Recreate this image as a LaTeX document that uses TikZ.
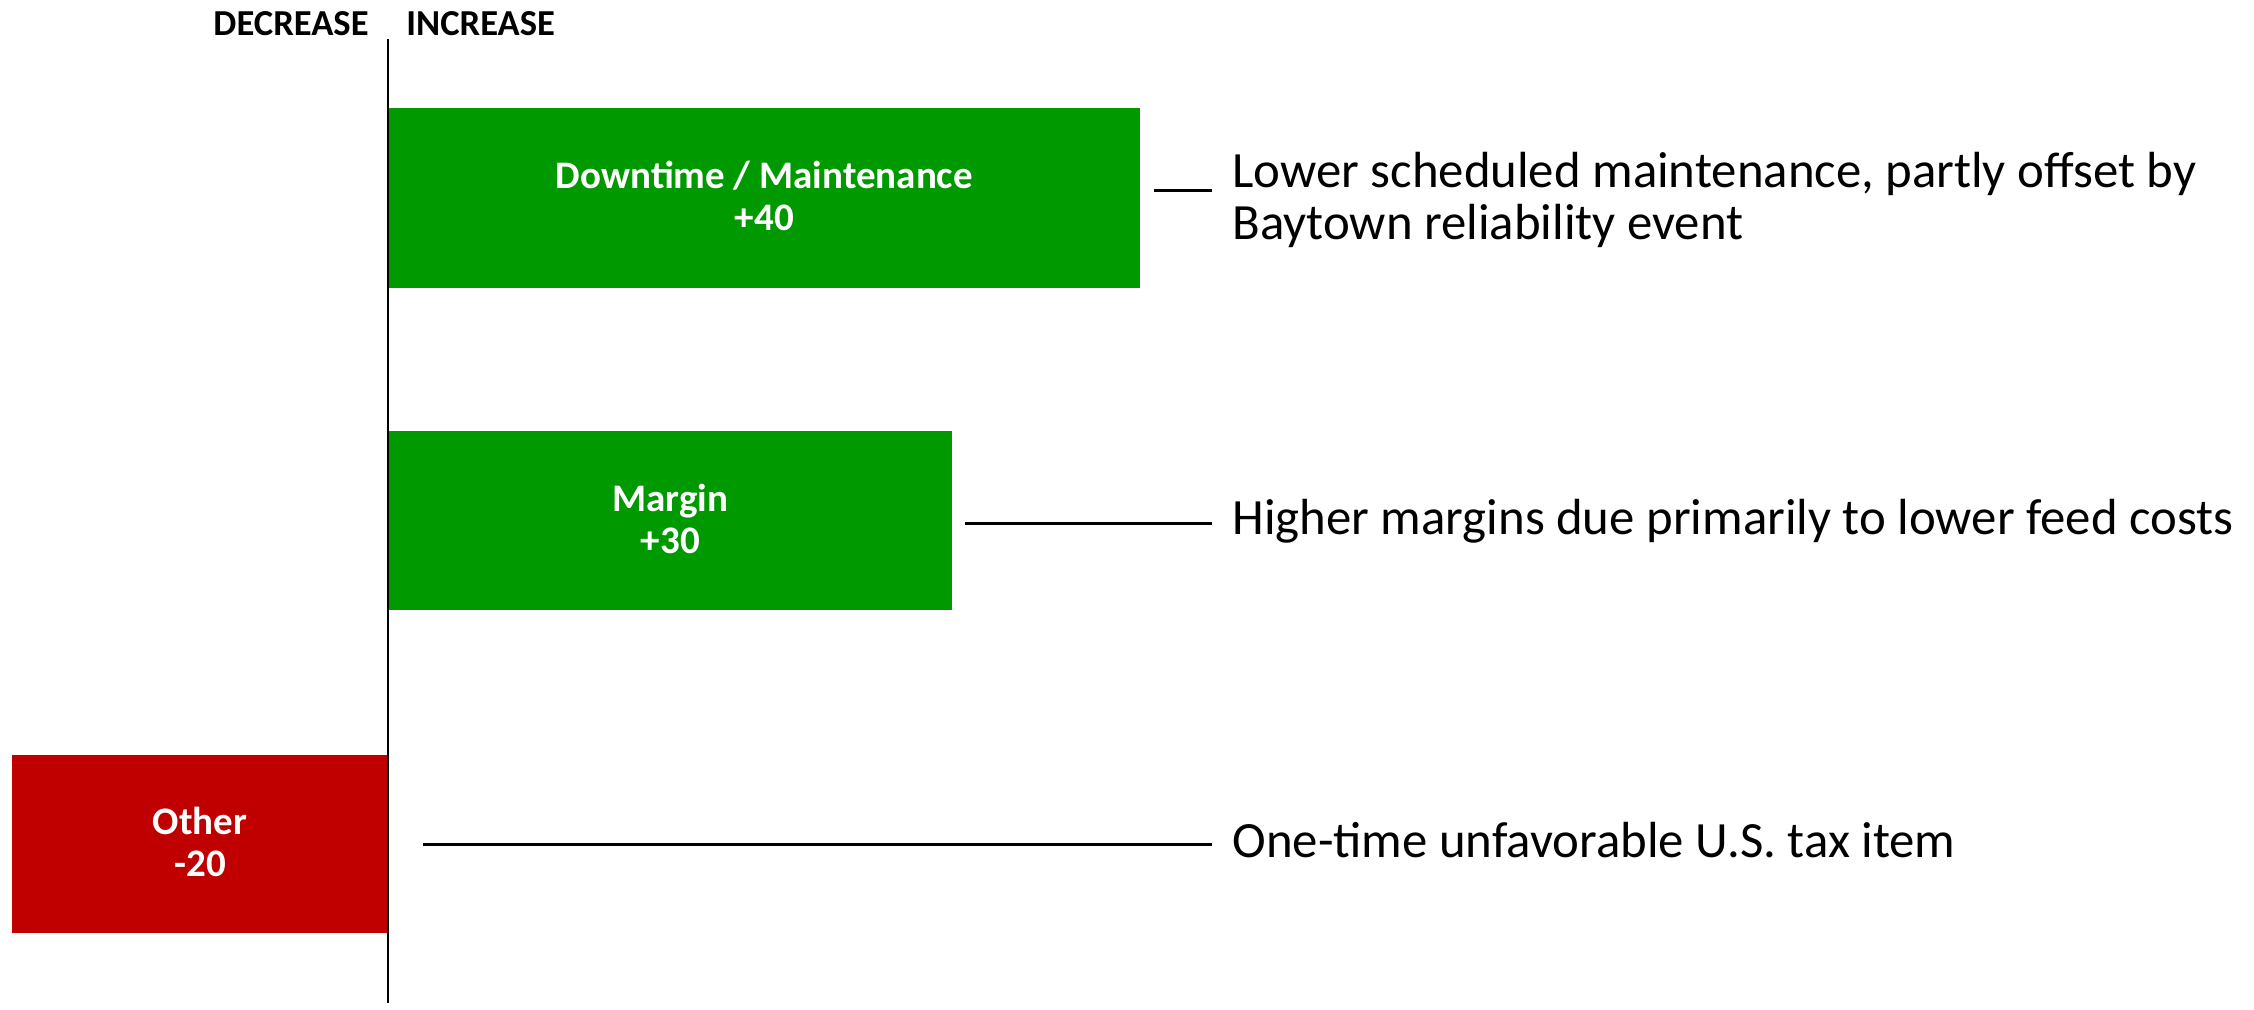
\documentclass[tikz,border=0pt]{standalone}
\usepackage{fontspec}
\setmainfont{Carlito}
\definecolor{barGreen}{RGB}{0,153,0}
\definecolor{barRed}{RGB}{192,0,0}
\begin{document}
\begin{tikzpicture}[x=0.5pt,y=-0.5pt,
  bar/.style={draw=none,inner sep=0pt,anchor=north west},
  barlabel/.style={inner sep=0pt,text=white,align=center,yshift=1pt,font=\bfseries\fontsize{19.5}{21}\selectfont},
  desc/.style={anchor=west,inner sep=0pt,align=left,font=\fontsize{25.4}{26}\selectfont},
  head/.style={inner sep=0pt,font=\bfseries\fontsize{18.3}{20}\selectfont},
  lead/.style={line width=1.5pt},
  axisline/.style={line width=0.9pt}]
\useasboundingbox (0,0) rectangle (2254,1010);
% headers
\node[head,anchor=east] (dec) at (369,24) {DECREASE};
\node[head,anchor=west] (inc) at (406,24) {INCREASE};
% bars
\node[bar,fill=barGreen,minimum width=376pt,minimum height=90pt] (b1) at (388,108) {};
\node[bar,fill=barGreen,minimum width=282pt,minimum height=89.5pt] (b2) at (388,431) {};
\node[bar,fill=barRed,minimum width=188.25pt,minimum height=89pt] (b3) at (11.5,755) {};
\node[barlabel] (t1) at (b1.center) {Downtime / Maintenance\\+40};
\node[barlabel] (t2) at (b2.center) {Margin\\+30};
\node[barlabel] (t3) at (b3.center) {Other\\-20};
% axis
\coordinate (axtop) at (388,39);
\coordinate (axbot) at (388,1003);
\draw[axisline] (axtop) -- (axbot);
% descriptions
\node[desc] (d1) at (1232,200) {Lower scheduled maintenance, partly offset by\\Baytown reliability event};
\node[desc] (d2) at (1232,521) {Higher margins due primarily to lower feed costs};
\node[desc] (d3) at (1232,840) {One-time unfavorable U.S. tax item};
% leaders
\coordinate (l1a) at (1154,191); \coordinate (l1b) at (1212,191);
\coordinate (l2a) at (965,523);  \coordinate (l2b) at (1212,523);
\coordinate (l3a) at (423,844);  \coordinate (l3b) at (1212,844);
\draw[lead] (l1a) -- (l1b);
\draw[lead] (l2a) -- (l2b);
\draw[lead] (l3a) -- (l3b);
\end{tikzpicture}
\end{document}
